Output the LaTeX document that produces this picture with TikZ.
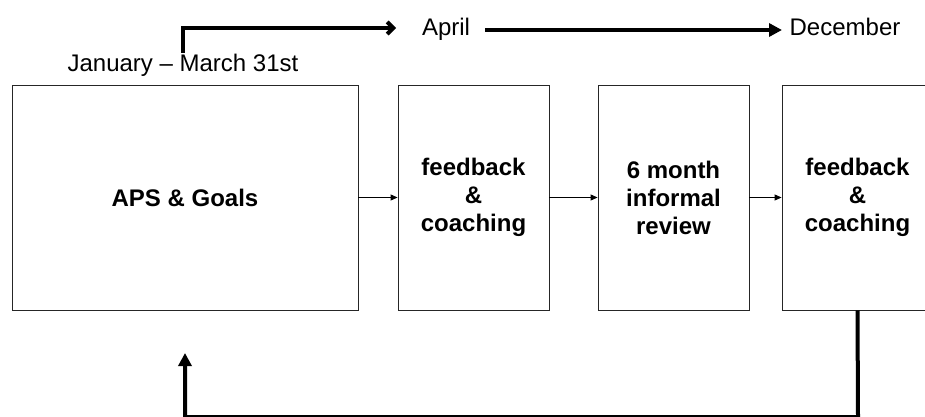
\documentclass[tikz,border=0pt]{standalone}
\usepackage{fontspec}
\setmainfont{Liberation Sans}
\usetikzlibrary{arrows.meta}
\begin{document}
\begin{tikzpicture}[x=1pt,y=-1pt,
  stagebox/.style={draw=black!85, line width=0.9pt, minimum height=225pt, inner sep=0pt,
     align=center, font=\bfseries\fontsize{24}{28}\selectfont},
  lbl/.style={anchor=base, inner sep=0pt, font=\fontsize{24}{28}\selectfont},
  thinarrow/.style={line width=0.9pt, -{Triangle[length=7pt,width=6pt]}},
  bigline/.style={line width=4pt}
]
\useasboundingbox (0,0) rectangle (925,417);
\clip (0,0) rectangle (925,417);
% boxes
\node[stagebox, minimum width=346pt] (b1) at (185,197.5) {APS \& Goals};
\node[stagebox, minimum width=151pt] (b2) at (473.5,197.5) {feedback\\\&\\coaching};
\node[stagebox, minimum width=151pt] (b3) at (673.5,197.5) {6 month\\informal\\review};
\node[stagebox, minimum width=151pt] (b4) at (857.5,197.5) {feedback\\\&\\coaching};
% thin connectors
\draw[thinarrow] (b1.east) -- (b2.west);
\draw[thinarrow] (b2.east) -- (b3.west);
\draw[thinarrow] (b3.east) -- (b4.west);
% labels
\node[lbl] (jan) at (183,72) {January -- March 31st};
\node[lbl] (april) at (446,36) {April};
\node[lbl] (dec) at (845,36) {December};
% top arrows
\coordinate (js) at (183,53);
\coordinate (je) at (396,28);
\draw[bigline, line join=miter, -{Straight Barb[length=6pt,width=12pt]}] (js) |- (je);
\coordinate (as) at (485,30);
\coordinate (ae) at (782,30);
\draw[bigline, -{Triangle[length=13pt,width=13pt]}] (as) -- (ae);
% feedback loop
\coordinate (lb) at (858,417);
\coordinate (le) at (185,353);
\draw[bigline, line join=miter, -{Triangle[length=13pt,width=13pt]}] (b4.south) -- (lb) -| (le);
\end{tikzpicture}
\end{document}
